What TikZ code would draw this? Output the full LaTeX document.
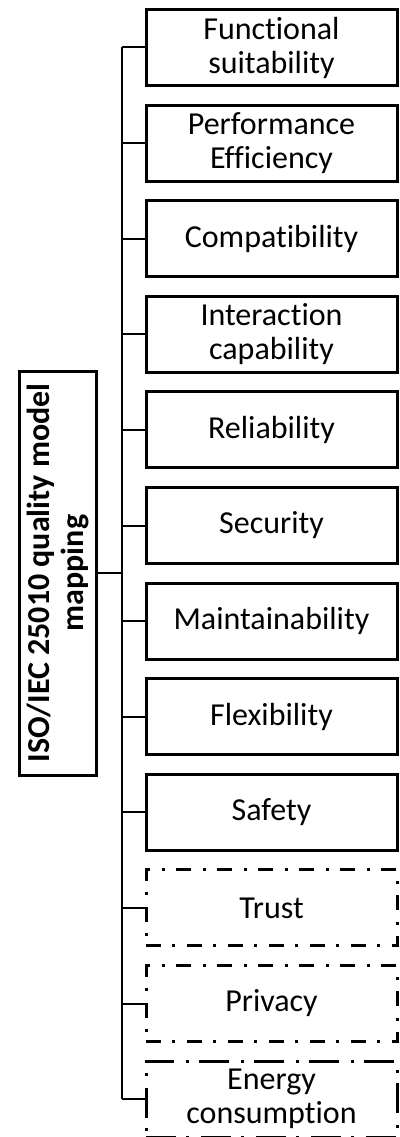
\documentclass[tikz,border=0pt]{standalone}
\usepackage{fontspec}
\setmainfont{Carlito}[Ligatures=NoCommon]
\begin{document}
\begin{tikzpicture}[x=1pt,y=-1pt,
  attr/.style={rectangle,draw=black,line width=3pt,minimum width=251pt,
    minimum height=76pt,inner sep=0pt,align=center,
    font=\fontsize{32}{34}\selectfont},
  solidattr/.style={attr},
  newattr/.style={attr,dash pattern=on 15pt off 11pt on 3pt off 12pt},
  newattrlong/.style={attr,dash pattern=on 30pt off 10pt on 3pt off 12pt},
  rootbox/.style={rectangle,draw=black,line width=3pt,rotate=90,
    minimum width=404pt,minimum height=77pt,inner sep=0pt,align=center,
    font=\fontsize{32}{34}\selectfont\bfseries},
  link/.style={draw=black,line width=2pt}]
\path[use as bounding box] (0,0) rectangle (399,1137);

% quality characteristics
\node[solidattr] (b1) at (271.5,47.5) {Functional\\suitability};
\node[solidattr] (b2) at (271.5,143.1) {Performance\\Efficiency};
\node[solidattr] (b3) at (271.5,238.7) {Compatibility};
\node[solidattr] (b4) at (271.5,334.3) {Interaction\\capability};
\node[solidattr] (b5) at (271.5,429.9) {Reliability};
\node[solidattr] (b6) at (271.5,525.5) {Security};
\node[solidattr] (b7) at (271.5,621.1) {Maintainability};
\node[solidattr] (b8) at (271.5,716.7) {Flexibility};
\node[solidattr] (b9) at (271.5,812.3) {Safety};
\node[newattr] (b10) at (271.5,907.9) {Trust};
\node[newattr] (b11) at (271.5,1003.5) {Privacy};
\node[newattrlong] (b12) at (271.5,1099.1) {Energy\\consumption};

% root of the mapping
\node[rootbox] (root) at (58,573) {ISO/IEC 25010 quality model\\mapping};

% trunk and branches
\coordinate (ttop) at (122,47.5);
\coordinate (tbot) at (122,1099.1);
\draw[link] (ttop) -- (tbot);
\foreach \i in {1,...,12}{
  \draw[link] (b\i.west) -- (b\i.west -| ttop);
}
\draw[link] (root.south) -- (root.south -| ttop);
\end{tikzpicture}
\end{document}
